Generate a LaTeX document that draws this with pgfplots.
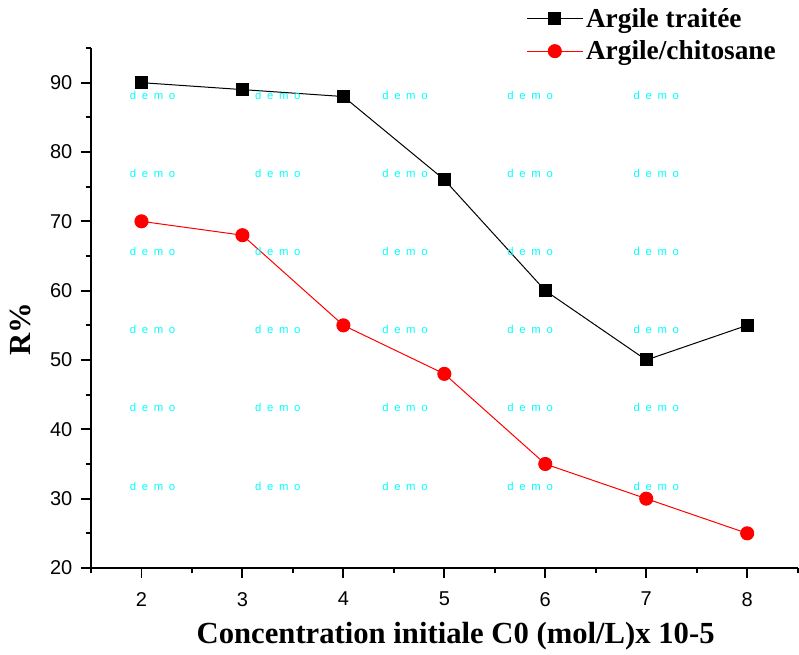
\documentclass[border=0pt]{standalone}
\usepackage{fontspec}
\setmainfont{Liberation Serif}
\newfontfamily\arial{Liberation Sans}
\usepackage{pgfplots}
\pgfplotsset{compat=1.18}
\definecolor{wm}{HTML}{00FFFF}

\begin{document}
\begin{tikzpicture}
  \begin{axis}[
    name=main,
    at={(0,0)}, anchor=south west,
    scale only axis,
    width=530pt, height=390pt,
    xmin=1.5, xmax=8.5,
    ymin=20, ymax=95,
    axis x line*=bottom,
    axis y line*=left,
    axis line style={line width=1.4pt,-},
    xtick={2,3,4,5,6,7,8},
    minor xtick={1.5,2.5,3.5,4.5,5.5,6.5,7.5,8.5},
    ytick={20,30,40,50,60,70,80,90},
    minor ytick={25,35,45,55,65,75,85,95},
    tick align=outside,
    major tick length=7.5pt,
    minor tick length=4pt,
    tick style={line width=1.4pt,black},
    /pgf/number format/assume math mode=true,
    tick label style={font=\arial\fontsize{15}{17}\selectfont},
    xticklabel style={yshift=-7pt},
    yticklabel style={xshift=-3pt},
    xlabel={\textbf{Concentration initiale C0 (mol/L)x 10-5}},
    xlabel style={font=\fontsize{23}{27}\selectfont,
      at={(axis description cs:0.516,-0.131)}, anchor=center},
    ylabel={\textbf{R\%}},
    ylabel style={font=\fontsize{23}{26}\selectfont,
      at={(axis description cs:-0.100,0.46)}, anchor=center},
    legend style={at={(0.61,1.087)}, anchor=north west, draw=none, fill=none,
      font=\bfseries\fontsize{20.5}{24}\selectfont, row sep=4.5pt,
      /tikz/every even column/.append style={column sep=7pt}},
    legend cell align=left,
    legend image code/.code={
      \draw[mark repeat=2,mark phase=2] plot coordinates {(0pt,0pt) (21pt,0pt) (42pt,0pt)};
    },
    clip=false,
  ]
    \addplot[black, line width=0.75pt, mark=square*, mark size=4.5pt,
      mark options={solid,fill=black}]
      coordinates {(2,90) (3,89) (4,88) (5,76) (6,60) (7,50) (8,55)};
    \addlegendentry{Argile traitée}
    \addplot[red, line width=0.75pt, mark=*, mark size=4.9pt,
      mark options={solid,fill=red}]
      coordinates {(2,70) (3,68) (4,55) (5,48) (6,35) (7,30) (8,25)};
    \addlegendentry{Argile/chitosane}
    % watermark
    \foreach \yy in {88.1,76.9,65.6,54.4,43.1,31.7} {
      \foreach \xx in {2.11,3.35,4.61,5.85,7.10} {
        \edef\wmnode{\noexpand\node[text=wm, font=\noexpand\arial\noexpand\fontsize{8.5}{10}\noexpand\selectfont, inner sep=0pt]
          at (axis cs:\xx,\yy) {d\noexpand\,\noexpand\,\noexpand\,e\noexpand\,\noexpand\,\noexpand\,m\noexpand\,\noexpand\,\noexpand\,o};}
        \wmnode
      }
    }
  \end{axis}
  \path (-68.25pt,-62.25pt) rectangle (531pt,426pt);
\end{tikzpicture}
\end{document}
